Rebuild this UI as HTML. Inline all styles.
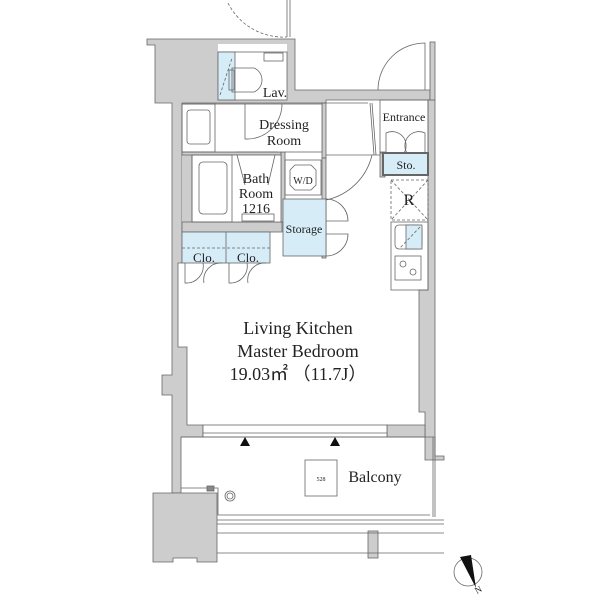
<!DOCTYPE html>
<html><head><meta charset="utf-8"><style>
html,body{margin:0;padding:0;background:#fff;}
svg{display:block}
text{font-family:"Liberation Serif",serif;fill:#222}
</style></head><body>
<svg width="602" height="602" viewBox="0 0 602 602" xmlns="http://www.w3.org/2000/svg">
<g fill="#cdcdcd" stroke="#666" stroke-width="0.8">
 <path d="M147 39 H295 V90 H430 V100 H326 V103 H182 V263 H178 V347 H187 V425 H203 V437 H181 V493 H172 V395 H162 V375 H172 V103 H155 V45 H147 Z"/>
 <rect x="218" y="44" width="69" height="8" fill="#fff" stroke="none"/>
 <rect x="182" y="152" width="10" height="74" stroke="none"/>
 <path d="M428 100 H435 V456 H444 V460 H425 V412 H419 V290 H428 Z"/>
 <rect x="430" y="42" width="5" height="58"/>
 <path d="M387 425 H425 V437 H387 Z"/>
 <path d="M153 493 H217 V562 H197 V558 H173 V562 H153 Z"/>
 <rect x="368" y="531" width="10" height="27"/>
 <rect x="182" y="152" width="99" height="3"/>
 <rect x="322" y="103" width="4" height="55"/>
 <rect x="322" y="158" width="4" height="100"/>
 <rect x="380" y="152" width="5" height="25"/>
 <rect x="281" y="152" width="4" height="70"/>
 <rect x="182" y="222" width="100" height="10"/>
</g>
<g fill="none" stroke="#666" stroke-width="0.8">
 <path d="M228 3 A62 62 0 0 0 287 37" stroke-dasharray="3,2"/>
 <line x1="287" y1="0" x2="287" y2="37"/><line x1="290" y1="0" x2="290" y2="37"/>
 <rect x="218" y="52" width="69" height="48" fill="#fff"/>
 <rect x="218" y="52" width="17" height="48" fill="#d6ecf7"/>
 <line x1="220" y1="95" x2="232" y2="58" stroke-dasharray="3,2"/>
 <path d="M232 68 H254 A13 13 0 0 1 254 92 H232 Z"/>
 <rect x="229" y="70" width="5" height="20"/>
 <rect x="264" y="53" width="19" height="8"/>
 <rect x="182" y="104" width="140" height="48" fill="#fff"/>
 <rect x="182" y="104" width="33" height="48"/>
 <rect x="187" y="110" width="23" height="34" rx="3"/>
 <path d="M245 104 V139 A35 35 0 0 0 282 104"/>
 <rect x="192" y="155" width="89" height="67" fill="#fff"/>
 <rect x="192" y="155" width="40" height="67"/>
 <rect x="199" y="162" width="28" height="52" rx="4"/>
 <path d="M236 152 H278 M237 155 L245 185 M275 155 L268 185"/>
 <rect x="242" y="214" width="32" height="7"/>
 <rect x="285" y="160" width="36" height="35"/>
 <path d="M295 165 H311 L316 170 V185 L311 190 H295 L290 185 V170 Z"/>
 <rect x="283" y="199" width="43" height="57" fill="#d6ecf7"/>
 <path d="M326 199 A22 22 0 0 1 348 221 L326 221 M326 234 L348 234 A22 22 0 0 1 326 256"/>
 <path d="M326 200 A60 60 0 0 0 372 155"/>
 <line x1="326" y1="155" x2="380" y2="155"/>
 <line x1="322" y1="103" x2="368" y2="103"/>
 <path d="M370 103 L374 155 M372 103 L376 155"/>
 <rect x="182" y="232" width="88" height="31" fill="#d6ecf7"/>
 <line x1="226" y1="232" x2="226" y2="263"/>
 <line x1="182" y1="248" x2="270" y2="248" stroke-dasharray="3,2"/>
 <path d="M185 263 V283 A17 17 0 0 0 203 263 M222 263 A17 17 0 0 0 204 283 M229 263 V283 A17 17 0 0 0 247 263 M266 263 A17 17 0 0 0 248 283"/>
 <path d="M378 90 A47 47 0 0 1 425 43 V90"/>
 <rect x="380" y="100" width="48" height="53" fill="none"/>
 <path d="M386 153 V133 A14 14 0 0 1 404 153 M425 153 V133 A14 14 0 0 0 407 153"/>
 <rect x="383" y="153" width="45" height="22" fill="#d6ecf7" stroke-width="2"/>
 <rect x="391" y="180" width="37" height="40" stroke-dasharray="3,2"/>
 <path d="M391 180 L428 220 M428 180 L391 220" stroke-dasharray="3,2"/>
 <rect x="391" y="222" width="37" height="68"/>
 <rect x="395" y="225" width="27" height="24" rx="4"/>
 <rect x="406" y="225" width="16" height="24" fill="#d6ecf7"/>
 <line x1="420" y1="227" x2="400" y2="248" stroke-dasharray="3,2"/>
 <rect x="395" y="256" width="26" height="24"/>
 <circle cx="403" cy="264" r="3"/><circle cx="413" cy="272" r="3"/>
 <rect x="203" y="425" width="184" height="12" fill="#fff"/>
 <line x1="203" y1="433" x2="387" y2="433"/>
 <path d="M181 437 H435 M181 488 H218 V515 H430 M433 437 V517 M435 437 V517 M217 520 H444 M217 524 H444 M217 533 H444 M217 553 H444"/>
 <rect x="305" y="460" width="32" height="36"/>
 <circle cx="230" cy="496" r="5"/><circle cx="230" cy="496" r="3"/>
 <rect x="207" y="486" width="7" height="5" fill="#888"/>
 <circle cx="468" cy="572" r="14"/>
</g>
<polygon points="240,446 250,446 245,437" fill="#111"/>
<polygon points="330,446 340,446 335,437" fill="#111"/>
<polygon points="460,557 471,555 476,588" fill="#111"/>
<g font-size="14">
 <text x="275" y="97" text-anchor="middle">Lav.</text>
 <text x="284" y="129" text-anchor="middle">Dressing</text>
 <text x="284" y="145" text-anchor="middle">Room</text>
 <text x="256" y="183" text-anchor="middle">Bath</text>
 <text x="256" y="198" text-anchor="middle">Room</text>
 <text x="256" y="213" text-anchor="middle">1216</text>
 <text x="404" y="121" text-anchor="middle" font-size="12">Entrance</text>
 <text x="406" y="169" text-anchor="middle" font-size="12">Sto.</text>
 <text x="409" y="205" text-anchor="middle" font-size="16">R</text>
 <text x="304" y="233" text-anchor="middle" font-size="12">Storage</text>
 <text x="204" y="262" text-anchor="middle" font-size="13">Clo.</text>
 <text x="248" y="262" text-anchor="middle" font-size="13">Clo.</text>
 <text x="303" y="184" text-anchor="middle" font-size="10">W/D</text>
 <text x="298" y="334" text-anchor="middle" font-size="18">Living Kitchen</text>
 <text x="298" y="357" text-anchor="middle" font-size="18">Master Bedroom</text>
 <text x="298" y="380" text-anchor="middle" font-size="18">19.03㎡ （11.7J）</text>
 <text x="375" y="482" text-anchor="middle" font-size="16">Balcony</text>
 <text x="321" y="481" text-anchor="middle" font-size="6">528</text>
 <text x="477" y="594" font-size="9" transform="rotate(-30 477 594)">N</text>
</g>
</svg>
</body></html>
